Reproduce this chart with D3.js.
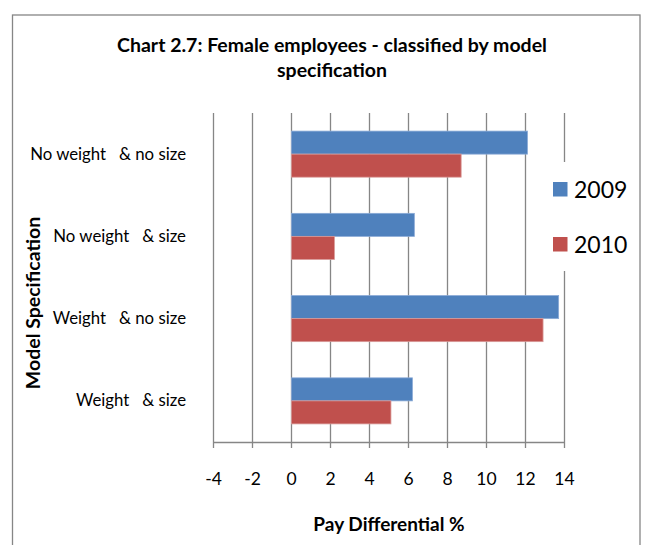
<!DOCTYPE html>
<html>
<head>
<meta charset="utf-8">
<script src="https://cdn.jsdelivr.net/npm/d3@7"></script>
<style>
  html, body { margin: 0; padding: 0; background: #fff; }
  svg text { font-family: Lato, "Open Sans", sans-serif; fill: #000; }
</style>
</head>
<body>
<div id="chart"></div>
<script>
// categories, top to bottom
const categories = ["No weight   & no size", "No weight   & size", "Weight   & no size", "Weight   & size"];
const seriesNames = ["2009", "2010"];
const values2009 = [12.1, 6.3, 13.7, 6.2];
const values2010 = [8.7, 2.2, 12.9, 5.1];
const xTicks = [-4, -2, 0, 2, 4, 6, 8, 10, 12, 14];
const colors = ["#4F81BD", "#C0504D"];

const width = 654, height = 545;

const svg = d3.select("#chart")
    .append("svg")
    .attr("width", width)
    .attr("height", height);

// chart border
svg.append("rect")
    .attr("x", 12.5).attr("y", 15)
    .attr("width", 627.5).attr("height", 545)
    .attr("fill", "#fff")
    .attr("stroke", "#868686")
    .attr("stroke-width", 1.3);

const x = d3.scaleLinear().domain([-4, 14]).range([213.5, 564.5]);
const y = d3.scaleBand().domain(categories).range([113, 442])
    .paddingInner(0.44).paddingOuter(0.22);
const ySub = d3.scaleBand().domain(seriesNames).range([0, y.bandwidth()]);

// vertical gridlines (run past the axis as tick marks)
svg.append("g")
    .selectAll("line")
    .data(xTicks)
    .join("line")
    .attr("x1", d => x(d)).attr("x2", d => x(d))
    .attr("y1", 113).attr("y2", 448)
    .attr("stroke", "#868686")
    .attr("stroke-width", 1.3);

// axis line
svg.append("line")
    .attr("x1", x(-4)).attr("x2", x(14))
    .attr("y1", 442.5).attr("y2", 442.5)
    .attr("stroke", "#868686")
    .attr("stroke-width", 1.3);

// tick labels
svg.append("g")
    .selectAll("text")
    .data(xTicks)
    .join("text")
    .attr("x", d => x(d))
    .attr("y", 485)
    .attr("text-anchor", "middle")
    .style("font-size", "17.5px")
    .text(d => d);

// bars
const rows = categories.map((c, i) => ({ cat: c, vals: [values2009[i], values2010[i]] }));
const groups = svg.append("g")
    .selectAll("g")
    .data(rows)
    .join("g")
    .attr("transform", d => `translate(0,${y(d.cat)})`);

groups.selectAll("rect")
    .data(d => d.vals.map((v, j) => ({ name: seriesNames[j], v, j })))
    .join("rect")
    .attr("x", d => x(Math.min(0, d.v)))
    .attr("y", d => ySub(d.name))
    .attr("width", d => Math.abs(x(d.v) - x(0)))
    .attr("height", ySub.bandwidth())
    .attr("fill", d => colors[d.j])
    .attr("stroke", d => d.j === 0 ? "#8aaad6" : "#d99a98")
    .attr("stroke-width", 0.8);

// category labels
svg.append("g")
    .selectAll("text")
    .data(categories)
    .join("text")
    .attr("x", 186)
    .attr("y", d => y(d) + y.bandwidth() / 2 + 5.5)
    .attr("text-anchor", "end")
    .style("font-size", "16.8px")
    .style("white-space", "pre")
    .attr("xml:space", "preserve")
    .text(d => d);

// legend (white box hides the gridline behind it)
svg.append("rect")
    .attr("x", 545).attr("y", 162)
    .attr("width", 90).attr("height", 109)
    .attr("fill", "#fff");

const legend = svg.append("g")
    .selectAll("g")
    .data(seriesNames)
    .join("g")
    .attr("transform", (d, i) => `translate(553,${182 + i * 55})`);
legend.append("rect")
    .attr("width", 14.5).attr("height", 14.5)
    .attr("fill", (d, i) => colors[i]);
legend.append("text")
    .attr("x", 21).attr("y", 15.5)
    .style("font-size", "23px")
    .text(d => d);

// titles
const title = svg.append("text")
    .attr("x", 332)
    .attr("text-anchor", "middle")
    .style("font-size", "19.5px")
    .style("font-weight", "bold");
title.append("tspan").attr("x", 332).attr("y", 52).text("Chart 2.7: Female employees - classified by model");
title.append("tspan").attr("x", 332).attr("y", 77).text("specification");

svg.append("text")
    .attr("x", 389).attr("y", 531)
    .attr("text-anchor", "middle")
    .style("font-size", "19px")
    .style("font-weight", "bold")
    .text("Pay Differential %");

svg.append("text")
    .attr("transform", "translate(40,303) rotate(-90)")
    .attr("text-anchor", "middle")
    .style("font-size", "19.5px")
    .style("font-weight", "bold")
    .text("Model Specification");
</script>
</body>
</html>
